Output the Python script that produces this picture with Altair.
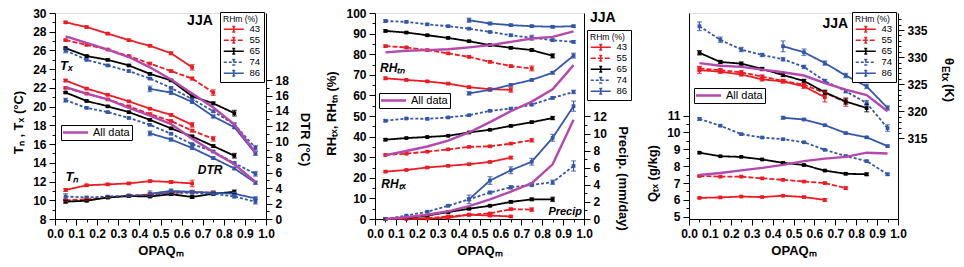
import altair as alt
import pandas as pd

FONT = "Liberation Sans"
RED = "#ec1c24"
BLACK = "#000000"
BLUE = "#3457a8"
MAGENTA = "#b548ad"

RHM = ["43", "55", "65", "74", "86"]
COLORS = [RED, RED, BLACK, BLUE, BLUE]
DASHES = [[1, 0], [5, 2], [1, 0], [3, 2], [1, 0]]

# OPAQ_m bin centres used by each RHm class
OPAQ = {
    "43": [0.05, 0.15, 0.25, 0.35, 0.45, 0.55, 0.65],
    "55": [0.05, 0.15, 0.25, 0.35, 0.45, 0.55, 0.65, 0.75],
    "65": [0.05, 0.15, 0.25, 0.35, 0.45, 0.55, 0.65, 0.75, 0.85],
    "74": [0.05, 0.15, 0.25, 0.35, 0.45, 0.55, 0.65, 0.75, 0.85, 0.95],
    "86": [0.45, 0.55, 0.65, 0.75, 0.85, 0.95],
}
OPAQ_ALL = [0.05, 0.15, 0.25, 0.35, 0.45, 0.55, 0.65, 0.75, 0.85, 0.95]

# ---- panel 1: Tx, Tn (left, degC) and DTR (right, degC)
TX = {
    "43": [29.0, 28.5, 27.8, 27.1, 26.5, 25.7, 24.2],
    "55": [27.1, 26.6, 26.1, 25.4, 24.6, 23.8, 23.0, 21.5],
    "65": [26.25, 25.4, 25.0, 24.4, 23.5, 22.8, 21.1, 20.35, 19.3],
    "74": [26.0, 25.0, 24.4, 23.8, 23.0, 22.0, 20.8, 19.5, 18.1, 15.6],
    "86": [21.9, 21.5, 20.5, 18.95, 17.8, 15.0],
}
TX_ERR = {
    "43": [0.1, 0.1, 0.1, 0.1, 0.1, 0.15, 0.3],
    "55": [0.1, 0.1, 0.1, 0.1, 0.1, 0.1, 0.15, 0.3],
    "65": [0.1, 0.1, 0.1, 0.1, 0.1, 0.1, 0.15, 0.15, 0.3],
    "74": [0.25, 0.1, 0.1, 0.1, 0.1, 0.1, 0.1, 0.1, 0.15, 0.25],
    "86": [0.3, 0.2, 0.15, 0.15, 0.15, 0.2],
}
TX_ALL = [27.5, 26.8, 26.1, 25.3, 24.2, 22.9, 21.4, 19.9, 18.1, 15.1]

TN = {
    "43": [11.1, 11.6, 11.7, 11.8, 12.05, 11.95, 11.8],
    "55": [10.0, 10.1, 10.3, 10.5, 10.6, 10.8, 10.9, 10.8],
    "65": [9.85, 9.95, 10.3, 10.45, 10.4, 10.65, 10.35, 10.7, 10.9],
    "74": [10.4, 10.3, 10.4, 10.5, 10.6, 10.8, 10.8, 10.7, 10.4, 9.85],
    "86": [10.7, 11.0, 10.9, 10.8, 10.7, 10.2],
}
TN_ERR = {
    "43": [0.15, 0.1, 0.1, 0.1, 0.1, 0.15, 0.35],
    "55": [0.1, 0.1, 0.1, 0.1, 0.1, 0.1, 0.15, 0.2],
    "65": [0.15, 0.1, 0.1, 0.1, 0.1, 0.1, 0.15, 0.15, 0.2],
    "74": [0.3, 0.1, 0.1, 0.1, 0.2, 0.1, 0.1, 0.1, 0.15, 0.25],
    "86": [0.3, 0.2, 0.15, 0.15, 0.15, 0.15],
}

DTR = {
    "43": [17.95, 16.9, 16.1, 15.25, 14.3, 13.5, 12.2],
    "55": [17.0, 16.25, 15.5, 14.6, 13.6, 12.7, 11.45, 10.4],
    "65": [16.4, 15.3, 14.6, 13.85, 12.85, 11.75, 10.7, 9.45, 8.2],
    "74": [15.4, 14.4, 13.85, 13.1, 12.2, 11.05, 9.7, 8.75, 7.25, 5.85],
    "86": [11.1, 10.3, 9.2, 7.9, 6.55, 4.7],
}
DTR_ERR = {
    "43": [0.15, 0.1, 0.1, 0.1, 0.1, 0.15, 0.3],
    "55": [0.1, 0.1, 0.1, 0.1, 0.1, 0.1, 0.15, 0.3],
    "65": [0.1, 0.1, 0.1, 0.1, 0.1, 0.1, 0.15, 0.15, 0.3],
    "74": [0.25, 0.1, 0.1, 0.1, 0.1, 0.1, 0.1, 0.1, 0.15, 0.3],
    "86": [0.3, 0.2, 0.15, 0.15, 0.15, 0.2],
}
DTR_ALL = [17.1, 16.25, 15.5, 14.4, 13.4, 12.3, 10.4, 8.7, 7.1, 4.8]

# ---- panel 2: RHtx, RHtn (left, %) and Precip (right, mm/day)
RHTN = {
    "43": [68.3, 67.5, 66.8, 65.7, 64.0, 63.0, 62.7],
    "55": [83.9, 83.3, 82.0, 80.4, 78.7, 76.3, 74.2, 73.1],
    "65": [91.3, 90.5, 89.2, 87.9, 86.3, 84.4, 83.1, 82.0, 79.2],
    "74": [96.1, 95.7, 94.5, 93.6, 92.4, 90.8, 89.2, 88.0, 86.8, 86.0],
    "86": [96.5, 94.9, 94.1, 93.6, 93.3, 93.6],
}
RHTN_ERR = {
    "43": [0.6, 0.4, 0.4, 0.4, 0.5, 0.6, 1.2],
    "55": [0.5, 0.4, 0.4, 0.4, 0.4, 0.5, 0.6, 1.2],
    "65": [0.5, 0.4, 0.4, 0.4, 0.4, 0.4, 0.5, 0.6, 1.0],
    "74": [0.6, 0.4, 0.4, 0.4, 0.4, 0.4, 0.5, 1.2, 0.6, 0.6],
    "86": [1.0, 0.6, 0.5, 0.5, 0.5, 0.5],
}
RHTN_ALL = [80.9, 81.7, 82.0, 82.4, 83.3, 84.4, 86.0, 87.6, 88.4, 91.1]

RHTX = {
    "43": [23.0, 23.8, 25.0, 25.8, 26.6, 27.7, 29.8],
    "55": [31.1, 31.7, 32.7, 33.8, 35.0, 35.3, 36.6, 38.2],
    "65": [38.5, 39.3, 39.8, 40.4, 42.0, 43.3, 45.2, 47.0, 49.0],
    "74": [47.7, 48.8, 48.6, 49.3, 50.4, 52.5, 53.6, 55.5, 58.8, 61.7],
    "86": [61.0, 62.7, 65.1, 67.5, 71.0, 79.3],
}
RHTX_ERR = {
    "43": [0.4, 0.3, 0.3, 0.3, 0.3, 0.4, 0.6],
    "55": [0.4, 0.3, 0.3, 0.3, 0.3, 0.3, 0.4, 0.8],
    "65": [0.5, 0.3, 0.3, 0.3, 0.3, 0.3, 0.4, 0.5, 0.8],
    "74": [0.5, 0.3, 0.3, 0.3, 0.3, 0.3, 0.4, 0.4, 0.6, 0.8],
    "86": [0.8, 0.5, 0.5, 0.5, 0.6, 1.2],
}
RHTX_ALL = [31.0, 33.0, 35.2, 38.0, 42.0, 47.0, 52.3, 57.0, 63.0, 74.7]

PRECIP = {
    "43": [0.0, 0.0, 0.05, 0.15, 0.5, 0.4, 0.3],
    "55": [0.0, 0.05, 0.1, 0.3, 0.5, 0.65, 1.15, 1.1],
    "65": [0.0, 0.1, 0.4, 0.8, 1.2, 1.55, 2.0, 2.3, 2.3],
    "74": [0.0, 0.4, 0.85, 1.55, 2.3, 3.1, 3.7, 4.0, 4.3, 6.2],
    "86": [2.3, 4.5, 5.7, 6.7, 9.5, 13.2],
}
PRECIP_ERR = {
    "43": [0.0, 0.0, 0.02, 0.05, 0.1, 0.1, 0.1],
    "55": [0.0, 0.02, 0.03, 0.05, 0.08, 0.1, 0.12, 0.2],
    "65": [0.0, 0.03, 0.05, 0.08, 0.1, 0.1, 0.12, 0.15, 0.25],
    "74": [0.0, 0.05, 0.08, 0.1, 0.15, 0.15, 0.2, 0.2, 0.25, 0.6],
    "86": [0.5, 0.45, 0.4, 0.4, 0.4, 0.6],
}
PRECIP_ALL = [0.0, 0.2, 0.5, 0.9, 1.5, 2.3, 3.2, 4.2, 6.4, 11.6]

# ---- panel 3: Qtx (left, g/kg) and theta_Etx (right, K)
Q = {
    "43": [6.12, 6.15, 6.2, 6.17, 6.25, 6.17, 6.0],
    "55": [7.42, 7.38, 7.38, 7.28, 7.19, 7.09, 7.0, 6.7],
    "65": [8.8, 8.59, 8.55, 8.4, 8.2, 8.07, 7.74, 7.55, 7.52],
    "74": [10.8, 10.4, 9.9, 9.7, 9.6, 9.42, 8.97, 8.6, 8.3, 7.52],
    "86": [10.87, 10.77, 10.43, 9.96, 9.71, 9.19],
}
Q_ERR = {
    "43": [0.04, 0.03, 0.03, 0.03, 0.03, 0.04, 0.08],
    "55": [0.04, 0.03, 0.03, 0.03, 0.03, 0.03, 0.04, 0.08],
    "65": [0.05, 0.03, 0.03, 0.03, 0.03, 0.03, 0.04, 0.05, 0.08],
    "74": [0.08, 0.05, 0.04, 0.03, 0.03, 0.03, 0.03, 0.04, 0.05, 0.07],
    "86": [0.08, 0.06, 0.05, 0.05, 0.05, 0.05],
}
Q_ALL = [7.48, 7.6, 7.75, 7.9, 8.08, 8.3, 8.45, 8.55, 8.8, 8.75]

THETA = {
    "43": [327.6, 327.3, 326.8, 325.9, 325.5, 324.6, 322.6],
    "55": [327.9, 327.6, 327.2, 326.4, 325.6, 324.9, 323.4, 321.7],
    "65": [330.8, 329.1, 328.8, 327.8, 326.7, 325.6, 323.5, 321.8, 320.6],
    "74": [335.7, 333.2, 331.4, 330.4, 329.6, 328.2, 325.6, 323.7, 321.5, 316.9],
    "86": [332.0, 330.9, 328.9, 326.6, 324.6, 320.6],
}
THETA_ERR = {
    "43": [0.6, 0.3, 0.3, 0.3, 0.3, 0.4, 0.9],
    "55": [0.4, 0.3, 0.3, 0.3, 0.3, 0.3, 0.4, 0.8],
    "65": [0.4, 0.3, 0.3, 0.3, 0.3, 0.3, 0.4, 0.5, 0.7],
    "74": [0.8, 0.5, 0.4, 0.3, 0.3, 0.3, 0.3, 0.3, 0.5, 0.6],
    "86": [1.0, 0.6, 0.4, 0.4, 0.4, 0.4],
}
THETA_ALL = [328.9, 328.4, 328.2, 327.7, 327.2, 326.6, 325.2, 324.0, 323.0, 320.0]

X_TICKS = [i / 20 for i in range(21)]
LEG_PATH = "M-4,0H4M0,-1.1V1.1M-0.6,-1.1H0.6M-0.6,1.1H0.6"


def frame(vals, errs, group):
    rows = []
    for k in RHM:
        for x, v, e in zip(OPAQ[k], vals[k], errs[k]):
            rows.append({"x": x, "y": v, "lo": v - e, "hi": v + e, "rh": k, "g": group})
    return pd.DataFrame(rows)


def all_frame(vals, group):
    return pd.DataFrame({"x": OPAQ_ALL, "y": vals, "g": group, "lab": "All data"})


def cond(test, major, minor):
    return {"condition": {"test": test, "value": major}, "value": minor}


def yaxis(orient, title, values, test, title_y=None, angle=None, title_pad=7):
    kw = dict(orient=orient, title=title, values=values,
              labelExpr=f"({test}) ? datum.label : ''",
              tickSize=cond(test, 6, 3), labelPadding=3, labelFlush=False,
              labelFontSize=12, labelFontWeight="bold", labelColor="black", labelFont=FONT,
              titleFontSize=13, titleFontWeight="bold", titleColor="black", titleFont=FONT,
              titlePadding=title_pad, grid=False, domainColor="black", tickColor="black",
              labelOverlap=False)
    if title_y is not None:
        kw["titleY"] = title_y
    if angle is not None:
        kw["titleAngle"] = angle
    return alt.Axis(**kw)


def xenc():
    test = "round(datum.value*20) % 2 == 0"
    ax = alt.Axis(orient="bottom", title="OPAQₘ", values=X_TICKS, format=".1f",
                  labelExpr=f"({test}) ? datum.label : ''", tickSize=cond(test, 6, 3),
                  labelPadding=3, labelFlush=False, labelFontSize=12, labelFontWeight="bold",
                  labelColor="black", labelFont=FONT, titleFontSize=13, titleFontWeight="bold",
                  titleColor="black", titleFont=FONT, titlePadding=5, grid=False,
                  domainColor="black", tickColor="black", labelOverlap=False)
    return alt.X("x:Q", scale=alt.Scale(domain=[0, 1], nice=False, zero=False), axis=ax)


def rh_legend(lx, ly):
    return alt.Legend(title="RHm (%)", orient="none", legendX=lx, legendY=ly, direction="vertical",
                      symbolType=LEG_PATH, symbolSize=25, symbolStrokeWidth=1.6,
                      symbolOffset=6, labelOffset=11, fillColor="white", strokeColor="black",
                      padding=3, rowPadding=0, clipHeight=9.6, titleFontSize=8.5,
                      titleFontWeight="normal", titlePadding=1, labelFontSize=9.5,
                      labelFont=FONT, titleFont=FONT, labelColor="black", titleColor="black")


def all_legend(lx, ly):
    return alt.Legend(title=None, orient="none", legendX=lx, legendY=ly,
                      symbolType="M-4.2,0H4.2", symbolSize=36, symbolStrokeWidth=2.4,
                      symbolOffset=7, labelOffset=12, fillColor="white", strokeColor="black",
                      padding=2, clipHeight=11, labelFontSize=11, labelFont=FONT, labelColor="black")


def side(df, dfa, dom, axis, rleg, aleg):
    sc = alt.Scale(domain=dom, nice=False, zero=False)
    color = alt.Color("rh:N", scale=alt.Scale(domain=RHM, range=COLORS), legend=rh_legend(*rleg))
    dash = alt.StrokeDash("rh:N", scale=alt.Scale(domain=RHM, range=DASHES), legend=rh_legend(*rleg))
    base = alt.Chart(df)
    lines = base.mark_line(strokeWidth=1.8, point=alt.OverlayMarkDef(shape="square", size=14, filled=True)).encode(
        x=xenc(), y=alt.Y("y:Q", scale=sc, axis=axis), color=color, strokeDash=dash, detail="g:N")
    rules = base.mark_rule(strokeWidth=1.2).encode(
        x=xenc(), y=alt.Y("lo:Q", scale=sc, axis=axis), y2="hi:Q", color=color)
    cap_lo = base.mark_tick(orient="horizontal", size=5, thickness=1.2).encode(
        x=xenc(), y=alt.Y("lo:Q", scale=sc, axis=axis), color=color)
    cap_hi = base.mark_tick(orient="horizontal", size=5, thickness=1.2).encode(
        x=xenc(), y=alt.Y("hi:Q", scale=sc, axis=axis), color=color)
    layers = [lines, rules, cap_lo, cap_hi]
    if dfa is not None:
        mag = alt.Chart(dfa).mark_line(strokeWidth=2.4).encode(
            x=xenc(), y=alt.Y("y:Q", scale=sc, axis=axis), detail="g:N",
            stroke=alt.Stroke("lab:N", scale=alt.Scale(domain=["All data"], range=[MAGENTA]),
                              legend=all_legend(*aleg)))
        layers.append(mag)
    return layers, sc


def ann(text, x, y, sc, axis, size=12, italic=True):
    d = pd.DataFrame({"x": [x], "y": [y], "t": [text]})
    return alt.Chart(d).mark_text(fontSize=size, fontStyle="italic" if italic else "normal",
                                  fontWeight="bold", font=FONT, color="black").encode(
        x=xenc(), y=alt.Y("y:Q", scale=sc, axis=axis), text="t:N")


H = 206

# panel 1
ax1l = yaxis("left", "Tₙ , Tₓ (°C)", list(range(8, 31)), "datum.value % 2 == 0", title_y=109)
ax1r = yaxis("right", "DTR (°C)", list(range(0, 19)), "datum.value % 2 == 0", title_y=126, angle=90, title_pad=9)
rl1 = (165, -1)
al1 = (6, 112)
df1l = pd.concat([frame(TX, TX_ERR, "Tx"), frame(TN, TN_ERR, "Tn")])
L1, sc1l = side(df1l, all_frame(TX_ALL, "Tx"), [8, 30], ax1l, rl1, al1)
L1 += [ann("Tₓ", 0.055, 24.3, sc1l, ax1l, 13), ann("Tₙ", 0.08, 12.5, sc1l, ax1l, 13),
       ann("DTR", 0.735, 13.2, sc1l, ax1l, 12), ann("JJA", 0.687, 29.1, sc1l, ax1l, 14, False)]
R1, _ = side(frame(DTR, DTR_ERR, "DTR"), all_frame(DTR_ALL, "DTR"), [0, 26.7], ax1r, rl1, al1)
p1 = alt.layer(alt.layer(*L1), alt.layer(*R1)).resolve_scale(y="independent").properties(width=211, height=H)

# panel 2
ax2l = yaxis("left", "RHₜₓ, RHₜₙ (%)", list(range(0, 101, 5)), "datum.value % 10 == 0", title_y=100)
ax2r = yaxis("right", "Precip. (mm/day)", list(range(0, 13)), "datum.value % 2 == 0", title_y=165, angle=90, title_pad=9)
rl2 = (212, 17)
al2 = (4, 80)
df2l = pd.concat([frame(RHTN, RHTN_ERR, "RHtn"), frame(RHTX, RHTX_ERR, "RHtx")])
dfa2l = pd.concat([all_frame(RHTN_ALL, "RHtn"), all_frame(RHTX_ALL, "RHtx")])
L2, sc2l = side(df2l, dfa2l, [0, 100], ax2l, rl2, al2)
L2 += [ann("RHₜₙ", 0.085, 73.4, sc2l, ax2l, 12), ann("RHₜₓ", 0.09, 16.9, sc2l, ax2l, 12),
       ann("Precip", 0.91, 3.4, sc2l, ax2l, 11), ann("JJA", 1.09, 97.5, sc2l, ax2l, 14, False)]
R2, _ = side(frame(PRECIP, PRECIP_ERR, "P"), all_frame(PRECIP_ALL, "P"), [0, 24.1], ax2r, rl2, al2)
p2 = alt.layer(alt.layer(*L2), alt.layer(*R2)).resolve_scale(y="independent").properties(width=209, height=H)

# panel 3
ax3l = yaxis("left", "Qₜₓ (g/kg)", [5 + i / 2 for i in range(13)], "datum.value % 1 == 0", title_y=160)
ax3r = yaxis("right", None, list(range(315, 338)), "datum.value % 5 == 0")
rl3 = (163, -1)
al3 = (5, 75)
L3, sc3l = side(frame(Q, Q_ERR, "Q"), all_frame(Q_ALL, "Q"), [4.87, 17.08], ax3l, rl3, al3)
L3 += [ann("JJA", 0.70, 16.4, sc3l, ax3l, 14, False)]
R3, _ = side(frame(THETA, THETA_ERR, "T"), all_frame(THETA_ALL, "T"), [300.1, 338.15], ax3r, rl3, al3)
one = alt.Data(values=[{}])
tt = [
    alt.Chart(one).mark_text(text="θ", angle=90, align="left", baseline="middle", fontSize=13,
                             fontWeight="bold", font=FONT, color="black").encode(x=alt.value(260), y=alt.value(45)),
    alt.Chart(one).mark_text(text="Etx", angle=90, align="left", baseline="middle", fontSize=10,
                             fontWeight="bold", font=FONT, color="black").encode(x=alt.value(256), y=alt.value(53)),
    alt.Chart(one).mark_text(text="(K)", angle=90, align="left", baseline="middle", fontSize=13,
                             fontWeight="bold", font=FONT, color="black").encode(x=alt.value(260), y=alt.value(71)),
]
p3 = alt.layer(alt.layer(*L3), alt.layer(*R3), *tt).resolve_scale(y="independent").properties(width=209, height=H)

chart = alt.hconcat(p1, p2, p3, spacing=14).resolve_scale(
    color="independent", strokeDash="independent", stroke="independent"
).resolve_legend(
    color="independent", strokeDash="independent", stroke="independent"
).properties(
    padding={"left": 4, "top": -2, "right": 0, "bottom": 0}
).configure_view(stroke="black", strokeWidth=1).configure(font=FONT)

chart.save("out.html", embed_options={"renderer": "svg", "actions": False})
